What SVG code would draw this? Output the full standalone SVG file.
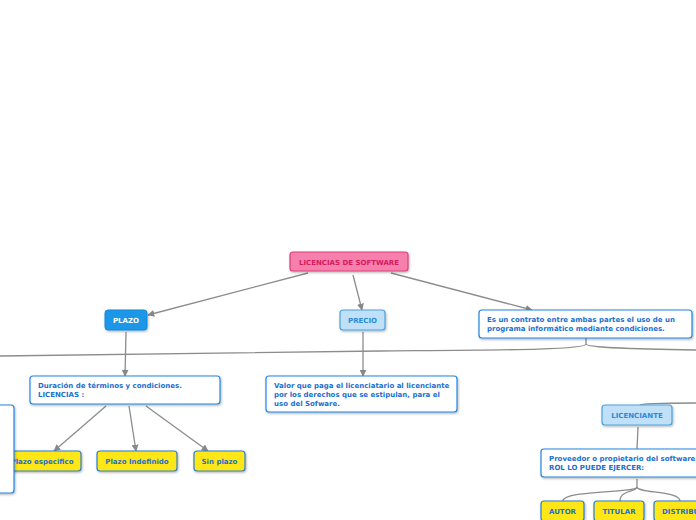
<svg xmlns="http://www.w3.org/2000/svg" width="696" height="520" viewBox="0 0 696 520">
<defs>
<filter id="sh" x="-10%" y="-20%" width="120%" height="150%">
<feDropShadow dx="0.8" dy="1.2" stdDeviation="0.8" flood-color="#000" flood-opacity="0.3"/>
</filter>
<marker id="ar" viewBox="0 0 10 10" refX="9" refY="5" markerWidth="7" markerHeight="7" orient="auto" markerUnits="userSpaceOnUse">
<path d="M0,0 L10,5 L0,10 z" fill="#888"/>
</marker>
</defs>
<style>
text{font-family:"DejaVu Sans",Verdana,sans-serif;font-weight:bold;font-size:7px}
.c{fill:none;stroke:#8c8c8c;stroke-width:1.3}
.a{marker-end:url(#ar)}
.w{fill:#fff;stroke:#1f86e3;stroke-width:1.2;filter:url(#sh)}
.wt{fill:#1a6fd0}
.y{fill:#ffe617;stroke:#2a7fd0;stroke-width:1.2;filter:url(#sh)}
.yt{fill:#1a6fd0;text-anchor:middle}
.lb{fill:#bfe0f6;stroke:#4aa3df;stroke-width:1.2;filter:url(#sh)}
.lbt{fill:#2a8ad8;text-anchor:middle}
</style>
<rect width="696" height="520" fill="#fff"/>
<g id="connectors">
<path class="c a" d="M308,273 L148,315"/>
<path class="c a" d="M353,275 L362,310"/>
<path class="c a" d="M391,273 L532,310"/>
<path class="c a" d="M126,332 L125,376"/>
<path class="c a" d="M363,332 L363,376"/>
<path class="c a" d="M106,406 L54,451"/>
<path class="c a" d="M129,406 L136,451"/>
<path class="c a" d="M146,406 L208,451"/>
<path class="c" d="M586,338 L586,344 C586,350 500,350 380,351 L0,356"/>
<path class="c" d="M586,344 C586,348 640,349 696,350"/>
<path class="c" d="M640,405 C640,404 660,403 696,403"/>
<path class="c" d="M638,427 L637,449"/>
<path class="c" d="M637,479 L637,487 C637,493 563,490 563,501"/>
<path class="c" d="M637,487 C637,492 620,490 620,501"/>
<path class="c" d="M637,487 C637,493 680,491 680,501"/>
</g>
<g id="root">
<rect x="290" y="252" width="118" height="19" rx="3" fill="#f680ac" stroke="#e23c7c" stroke-width="1.2" filter="url(#sh)"/>
<text x="349" y="264.5" text-anchor="middle" fill="#d41a5e">LICENCIAS DE SOFTWARE</text>
</g>
<g id="plazo">
<rect x="105" y="310" width="42" height="20" rx="3" fill="#1a97e8" stroke="#1787d8" stroke-width="1" filter="url(#sh)"/>
<text x="126" y="322.5" text-anchor="middle" fill="#fff">PLAZO</text>
</g>
<g id="precio">
<rect class="lb" x="340" y="310" width="45" height="20" rx="3"/>
<text class="lbt" x="362.5" y="322.5">PRECIO</text>
</g>
<g id="contrato">
<rect class="w" x="479" y="310" width="213" height="28" rx="3"/>
<text class="wt" x="487" y="322">Es un contrato entre ambas partes el uso de un</text>
<text class="wt" x="487" y="331">programa informático mediante condiciones.</text>
</g>
<g id="duracion">
<rect class="w" x="30" y="376" width="190" height="28" rx="3"/>
<text class="wt" x="38" y="388">Duración de términos y condiciones.</text>
<text class="wt" x="38" y="397">LICENCIAS :</text>
</g>
<g id="valor">
<rect class="w" x="266" y="376" width="191" height="36" rx="3"/>
<text class="wt" x="274" y="388">Valor que paga el licenciatario al licenciante</text>
<text class="wt" x="274" y="397">por los derechos que se estipulan, para el</text>
<text class="wt" x="274" y="406">uso del Sofware.</text>
</g>
<g id="plazo-especifico">
<rect class="y" x="3" y="451" width="78" height="20" rx="3"/>
<text class="yt" x="42" y="463.5">Plazo especifico</text>
</g>
<g id="left-box">
<rect class="w" x="-30" y="405" width="44" height="88" rx="3"/>
</g>
<g id="plazo-indefinido">
<rect class="y" x="97" y="451" width="80" height="20" rx="3"/>
<text class="yt" x="137" y="463.5">Plazo Indefinido</text>
</g>
<g id="sin-plazo">
<rect class="y" x="194" y="451" width="51" height="20" rx="3"/>
<text class="yt" x="219.5" y="463.5">Sin plazo</text>
</g>
<g id="licenciante">
<rect class="lb" x="602" y="405" width="70" height="20" rx="3"/>
<text class="lbt" x="637" y="417.5">LICENCIANTE</text>
</g>
<g id="proveedor">
<rect class="w" x="541" y="449" width="170" height="28" rx="3"/>
<text class="wt" x="549" y="461">Proveedor o propietario del software.</text>
<text class="wt" x="549" y="470">ROL LO PUEDE EJERCER:</text>
</g>
<g id="autor">
<rect class="y" x="541" y="501" width="43" height="20" rx="3"/>
<text class="yt" x="562.5" y="513.5">AUTOR</text>
</g>
<g id="titular">
<rect class="y" x="594" y="501" width="50" height="20" rx="3"/>
<text class="yt" x="619" y="513.5">TITULAR</text>
</g>
<g id="distribuidor">
<rect class="y" x="654" y="501" width="70" height="20" rx="3"/>
<text class="wt" x="662" y="513.5">DISTRIBUIDOR</text>
</g>
</svg>
